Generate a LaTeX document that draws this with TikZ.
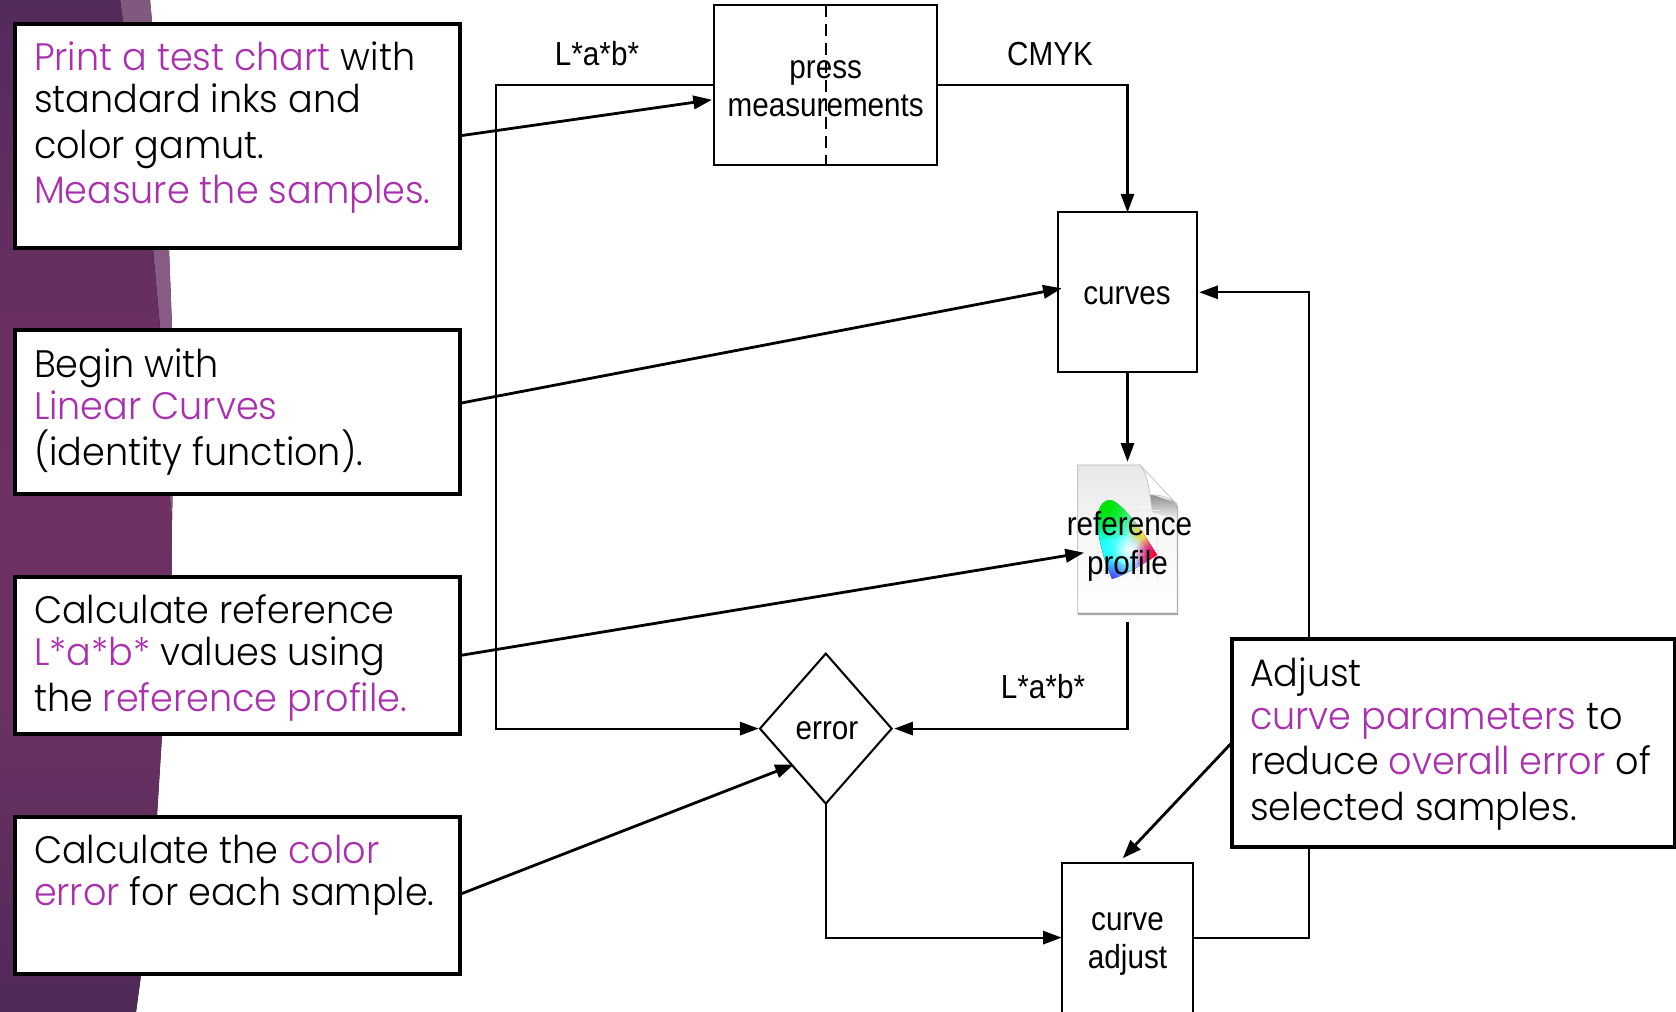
\documentclass[tikz,border=0pt]{standalone}
\usepackage{fontspec}
\usepackage{xcolor}
\usetikzlibrary{arrows.meta,shapes.geometric,fadings,calc}
\newfontfamily\gothic[FakeStretch=0.955]{Poppins Light}
\newfontfamily\helv[FakeStretch=0.89]{Liberation Sans}
\definecolor{accent}{HTML}{AB30AF}
\definecolor{sidea}{HTML}{522C5C}
\definecolor{sideb}{HTML}{672F60}
\definecolor{sidec}{HTML}{6D3162}
\definecolor{sided}{HTML}{6A3162}
\definecolor{sidee}{HTML}{5F2E5E}
\definecolor{sidef}{HTML}{4E2A56}
\definecolor{bandtop}{HTML}{80597F}
\definecolor{bandbot}{HTML}{8E5E8A}
\newcommand{\pk}[1]{\textcolor{accent}{#1}}
\def\px{0.75pt}
\tikzfadingfrompicture[name=softdisc]
\shade[inner color=transparent!0,outer color=transparent!100] (0,0) circle (1);
\endtikzfadingfrompicture
\tikzset{
 note/.style={draw=black,fill=white,line width=3pt,rectangle,inner sep=0pt,outer sep=0pt,miter limit=10},
 flow/.style={draw=black,rectangle,line width=1.55pt,inner sep=0pt,outer sep=0pt},
 txt/.style={anchor=base west,inner sep=0pt,outer sep=0pt,font=\gothic\fontsize{28.7}{34}\selectfont,text=black},
 lbl/.style={anchor=base,inner sep=0pt,outer sep=0pt,font=\helv\fontsize{25}{28}\selectfont,text=black},
 conn/.style={draw=black,line width=1.55pt,-{Triangle[length=14pt,width=10pt]}},
 pointer/.style={draw=black,line width=2.1pt,-{Triangle[length=14pt,width=10pt]}},
}
\begin{document}
\begin{tikzpicture}[x=\px,y=-\px]
\useasboundingbox (0,0) rectangle (1676,1012);
\fill[white] (0,0) rectangle (1676,1012);
% sidebar
\fill[top color=bandtop,bottom color=bandbot] (118,0) -- (150,0) -- (152,22) -- (169,250) -- (172,328) -- (172.5,495) -- (172,520) -- (160,520) -- cycle;
\begin{scope}
\clip (0,0) -- (120,0) -- (123,22) -- (153,250) -- (160,328) -- (169.5,495) -- (172,520) -- (171.5,575) -- (162,735) -- (157,815) -- (141,975) -- (136,1012) -- (0,1012) -- cycle;
\fill[top color=sidea,bottom color=sideb] (0,0) rectangle (180,300.5);
\fill[top color=sideb,bottom color=sidec] (0,300) rectangle (180,500.5);
\fill[top color=sidec,bottom color=sided] (0,500) rectangle (180,700.5);
\fill[top color=sided,bottom color=sidee] (0,700) rectangle (180,850.5);
\fill[top color=sidee,bottom color=sidef] (0,850) rectangle (180,1012);
\end{scope}
% flow nodes
\node[flow,minimum width=223.5*\px,minimum height=159.5*\px] (press) at (825.5,85) {};
\draw[line width=1.55pt,dash pattern=on 9pt off 5pt] ($(press.north)+(0.5,0)$) -- ($(press.south)+(0.5,0)$);
\node[flow,minimum width=139.6*\px,minimum height=159.7*\px] (curves) at (1127.5,292.3) {};
\node[flow,diamond,aspect=0.878,minimum width=131.7*\px,minimum height=150*\px] (err) at (825.8,728.6) {};
\node[flow,minimum width=131.6*\px,minimum height=150*\px] (cadj) at (1127.5,937.6) {};
% profile icon
\node[inner sep=0pt,outer sep=0pt,minimum width=99.6*\px,minimum height=148*\px] (icon) at (1127.5,539) {};
\fill[black!35] (1078,466) -- (1078,615) -- (1178,615) -- (1178,506) -- cycle;
\fill[top color=black!9,bottom color=white,middle color=black!3,draw=black!28,line width=0.6pt] (1077.7,465) -- (1140,465) -- (1177.3,507) -- (1177.3,613) -- (1077.7,613) -- cycle;
\shade[top color=black!45,bottom color=black!4] (1150,494) -- (1177,503) -- (1177,520) -- (1152,512) -- cycle;
\fill[white,draw=black!25,line width=0.5pt] (1141,466) .. controls (1147,475) and (1149,487) .. (1150,495) .. controls (1160,494) and (1170,498) .. (1176.5,504) -- cycle;
\draw[black!8,line width=0.5pt] (1097,500) -- (1097,580) (1117,500) -- (1117,580) (1137,500) -- (1137,580) (1157,520) -- (1157,580) (1097,510) -- (1160,510) (1097,530) -- (1160,530) (1097,550) -- (1160,550) (1097,570) -- (1160,570);
\begin{scope}
\clip (1112,579) .. controls (1104,560) and (1096,535) .. (1098,515) .. controls (1099,503) and (1108,497) .. (1115,502) .. controls (1128,510) and (1145,535) .. (1157,555) .. controls (1142,565) and (1125,575) .. (1112,579) -- cycle;
\fill[left color=cyan,right color=magenta,middle color=cyan!55] (1095,495) rectangle (1160,582);
\fill[green!90!black,path fading=softdisc] (1106,498) circle (42);
\fill[green!90!black,path fading=softdisc] (1104,505) circle (26);
\fill[yellow,path fading=softdisc] (1143,532) circle (16);
\fill[white,path fading=softdisc] (1130,550) circle (15);
\fill[red,path fading=softdisc] (1158,556) circle (22);
\fill[blue!70!magenta,path fading=softdisc] (1110,584) circle (24);
\end{scope}
% connectors
\coordinate (labtop) at (1127.5,622);
\coordinate (labend) at (1127.5,648);
\draw[line width=2.6pt] (labtop) -- (labend);
\draw[conn,shorten >=2pt] (labend) |- (err.east);
\draw[conn,shorten >=1pt] (press.west) -| (496,728.6) -- (err.west);
\draw[conn] (press.east) -| (curves.north);
\draw[conn,shorten >=2.5pt] (curves.south) -- (icon.north);
\draw[conn] (err.south) |- (cadj.west);
\draw[conn,shorten >=1.5pt] (cadj.east) -| (1309,600) |- (curves.east);
% note boxes
\node[note,minimum width=445*\px,minimum height=223.6*\px] (n1) at (237.5,135.8) {};
\node[note,minimum width=445*\px,minimum height=163.6*\px] (n2) at (237.5,411.8) {};
\node[note,minimum width=445*\px,minimum height=157*\px] (n3) at (237.5,655.5) {};
\node[note,minimum width=445*\px,minimum height=156.6*\px] (n4) at (237.5,895.2) {};
\node[note,minimum width=443.5*\px,minimum height=207.4*\px] (n5) at (1453.25,743) {};
% pointers
\draw[pointer] (n1.east) -- ([shift={(-1.8,14.75)}]press.west);
\draw[pointer] ([yshift=6.4pt]n2.east) -- ([shift={(4,-4)}]curves.west);
\draw[pointer] (n3.east) -- ([shift={(6.3,13.7)}]icon.west);
\draw[pointer] ([yshift=0.7pt]n4.east) -- ([shift={(1,-1.6)}]err.south west);
\draw[pointer] (n5.west) -- ([shift={(-4.8,-4.3)}]cadj.north);
% flow labels
\node[lbl] (l1) at (597,66) {L*a*b*};
\node[lbl] (l2) at (1050,65.5) {CMYK};
\node[lbl] (l3) at (1043,698) {L*a*b*};
\node[lbl] (p1) at (825.7,78.5) {press};
\node[lbl] (p2) at (825.7,117) {measurements};
\node[lbl] (c1) at (1127,305) {curves};
\node[lbl] (r1) at (1129.5,535.5) {reference};
\node[lbl] (r2) at (1127.5,574) {profile};
\node[lbl] (e1) at (827,739) {error};
\node[lbl] (a1) at (1127.5,930) {curve};
\node[lbl] (a2) at (1127.5,968.5) {adjust};
% note text
\node[txt] (t11) at (34,71) {\pk{Print a test chart} with};
\node[txt] (t12) at (34,113) {standard inks and};
\node[txt] (t13) at (34,159) {color gamut.};
\node[txt] (t14) at (34,204) {\pk{Measure the samples.}};
\node[txt] (t21) at (34,377.5) {Begin with};
\node[txt] (t22) at (34,419) {\pk{Linear Curves}};
\node[txt] (t23) at (34,465) {(identity function).};
\node[txt] (t31) at (34,623.5) {Calculate reference};
\node[txt] (t32) at (34,665) {\pk{L*a*b*} values using};
\node[txt] (t33) at (34,711) {the \pk{reference profile.}};
\node[txt] (t41) at (34,863.5) {Calculate the \pk{color}};
\node[txt] (t42) at (34,905) {\pk{error} for each sample.};
\node[txt] (t51) at (1250,686.5) {Adjust};
\node[txt] (t52) at (1250,729) {\pk{curve parameters} to};
\node[txt] (t53) at (1250,774) {reduce \pk{overall error} of};
\node[txt] (t54) at (1250,820) {selected samples.};
\end{tikzpicture}
\end{document}
